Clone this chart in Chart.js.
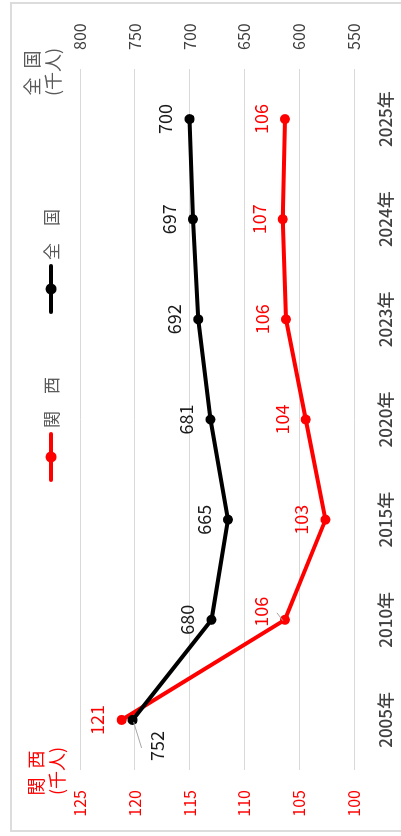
<!DOCTYPE html>
<html><head><meta charset="utf-8">
<script src="https://cdn.jsdelivr.net/npm/chart.js@4.4.1/dist/chart.umd.min.js"></script>
<style>
html,body{margin:0;padding:0;background:#fff;overflow:hidden;width:401px;height:836px;}
#wrap{position:absolute;left:0;top:0;width:836px;height:401px;transform-origin:0 0;transform:translateY(836px) rotate(-90deg);}
#frame{position:absolute;left:4px;top:10px;width:830px;height:420px;border:2px solid #dcdcdc;box-sizing:border-box;}
canvas{position:absolute;left:0;top:0;}
</style></head><body>
<div id="wrap"><div id="frame"></div><canvas id="c" width="836" height="401"></canvas></div>
<script>
// ---- data ----
const categories = ['2005年','2010年','2015年','2020年','2023年','2024年','2025年'];
const kansai  = [121.2, 106.3, 102.6, 104.4, 106.2, 106.5, 106.3];
const zenkoku = [752, 680, 665, 681, 692, 697, 700];
const seriesNames = ['関　西', '全　国'];
const leftTicks  = [100, 105, 110, 115, 120, 125];
const rightTicks = [550, 600, 650, 700, 750, 800];
const leftTitle  = ['関\u2002西', '(千人)'];
const rightTitle = ['全\u2002国', '(千人)'];

// ---- styling ----
const RED = '#ff0000', BLACK = '#000000';
const FONT = "'Noto Sans CJK JP', 'Noto Sans', sans-serif";

const labelOffsets = [
  {1: [8, -23.5]},   // 関西
  {0: [-26, 25]}     // 全国
];

const overlay = {
  id: 'overlay',
  afterDatasetsDraw(chart) {
    const ctx = chart.ctx;
    ctx.save();
    ctx.font = '18px ' + FONT;
    ctx.textAlign = 'center';
    ctx.textBaseline = 'middle';
    chart.data.datasets.forEach((ds, di) => {
      const meta = chart.getDatasetMeta(di);
      meta.data.forEach((pt, i) => {
        const off = (labelOffsets[di] && labelOffsets[di][i]) || [0, -24];
        const lx = pt.x + off[0], ly = pt.y + off[1];
        if (labelOffsets[di] && labelOffsets[di][i]) {
          ctx.strokeStyle = '#a6a6a6';
          ctx.lineWidth = 1;
          ctx.beginPath();
          if (di === 1) { ctx.moveTo(pt.x - 2, pt.y + 1); ctx.lineTo(pt.x - 28, pt.y + 9); }
          else { ctx.moveTo(pt.x - 1, pt.y - 2); ctx.lineTo(pt.x + 7, pt.y - 8); }
          ctx.stroke();
        }
        ctx.fillStyle = di === 0 ? RED : '#1a1a1a';
        ctx.fillText(String(Math.round(ds.data[i])), lx, ly);
      });
    });
    ctx.restore();
  },
  afterDraw(chart) {
    const ctx = chart.ctx;
    ctx.save();
    // legend
    const items = [{name: seriesNames[0], color: RED, x: 356}, {name: seriesNames[1], color: BLACK, x: 524}];
    const ly = 51;
    ctx.font = '17px ' + FONT;
    ctx.textBaseline = 'middle';
    ctx.textAlign = 'left';
    items.forEach(it => {
      ctx.strokeStyle = it.color; ctx.lineWidth = 4; ctx.lineCap = 'round';
      ctx.beginPath(); ctx.moveTo(it.x, ly); ctx.lineTo(it.x + 46, ly); ctx.stroke();
      ctx.fillStyle = it.color;
      ctx.beginPath(); ctx.arc(it.x + 23, ly, 5.5, 0, Math.PI * 2); ctx.fill();
      ctx.fillStyle = '#595959';
      ctx.fillText(it.name, it.x + 52, ly + 1);
    });
    // axis titles
    ctx.font = '18px ' + FONT;
    ctx.textAlign = 'center';
    ctx.fillStyle = RED;
    ctx.fillText(leftTitle[0], 63, 36);
    ctx.fillText(leftTitle[1], 65, 57);
    ctx.fillStyle = '#595959';
    ctx.fillText(rightTitle[0], 763, 32);
    ctx.fillText(rightTitle[1], 764, 53);
    ctx.restore();
  }
};

new Chart(document.getElementById('c'), {
  type: 'line',
  data: {
    labels: categories,
    datasets: [
      {label: seriesNames[0], data: kansai, yAxisID: 'y', borderColor: RED, backgroundColor: RED,
       borderWidth: 4, pointRadius: 5, pointBackgroundColor: RED, pointBorderWidth: 0, order: 1, tension: 0},
      {label: seriesNames[1], data: zenkoku, yAxisID: 'y1', borderColor: BLACK, backgroundColor: BLACK,
       borderWidth: 4, pointRadius: 5, pointBackgroundColor: BLACK, pointBorderWidth: 0, order: 0, tension: 0}
    ]
  },
  options: {
    responsive: false,
    animation: false,
    devicePixelRatio: 1,
    layout: {padding: {top: 80, left: 0, right: 0, bottom: 0}},
    plugins: {legend: {display: false}, tooltip: {enabled: false}},
    scales: {
      x: {
        type: 'category', offset: true,
        grid: {display: false, drawTicks: false},
        border: {display: false},
        ticks: {color: '#404040', font: {family: FONT, size: 17, weight: '500'}, padding: 21, maxRotation: 0, autoSkip: false},
        afterFit(s) { s.height = 47; }
      },
      y: {
        position: 'left', min: 100, max: 125,
        afterBuildTicks(s) { s.ticks = leftTicks.map(v => ({value: v})); },
        grid: {color: '#d9d9d9', lineWidth: 1, drawTicks: false},
        border: {display: false},
        ticks: {color: RED, font: {family: FONT, size: 16}, padding: 20},
        afterFit(s) { s.width = 66; }
      },
      y1: {
        position: 'right', min: 550, max: 800,
        afterBuildTicks(s) { s.ticks = rightTicks.map(v => ({value: v})); },
        grid: {display: false, drawTicks: false},
        border: {display: false},
        ticks: {color: '#404040', font: {family: FONT, size: 16}, padding: 19},
        afterFit(s) { s.width = 69; }
      }
    }
  },
  plugins: [overlay]
});
</script>
</body></html>
